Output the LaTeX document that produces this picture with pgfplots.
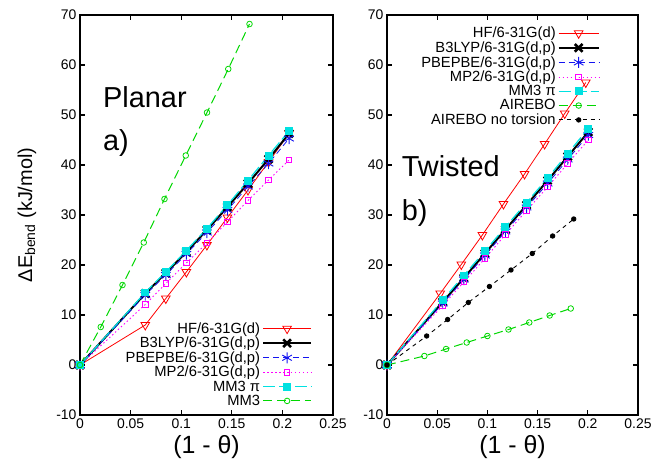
\documentclass[border=0pt]{standalone}
\usepackage{fontspec}
\setmainfont{Liberation Sans}
\usepackage{pgfplots}
\pgfplotsset{compat=1.18}
\definecolor{myred}{RGB}{255,0,0}
\definecolor{myblue}{RGB}{20,20,240}
\definecolor{mymag}{RGB}{255,0,255}
\definecolor{mycyan}{RGB}{0,225,225}
\definecolor{mygreen}{RGB}{0,215,0}
\pgfplotsset{
 panel/.style={
  scale only axis, width=253bp, height=400bp,
  xmin=0, xmax=0.25, ymin=-10, ymax=70,
  xtick={0,0.05,0.1,0.15,0.2,0.25},
  ytick={-10,0,10,20,30,40,50,60,70},
  tick align=inside, major tick length=5bp, minor tick num=0,
  axis line style={line width=1.6pt},
  every tick/.style={line width=1.3pt, black},
  /pgf/number format/assume math mode=true,
  tick label style={font=\fontsize{14}{16}\selectfont},
  xticklabel style={/pgf/number format/fixed, /pgf/number format/precision=2},
  xlabel={(1 - θ)},
  xlabel style={font=\fontsize{25}{28}\selectfont},
  legend cell align=right, legend plot pos=right,
  legend style={draw=none, fill=none, font=\fontsize{14.8}{15}\selectfont, row sep=-1.6pt},
 },
 hf/.style={myred, line width=0.8pt, mark=triangle, mark size=5bp, mark options={rotate=180, solid, line width=0.8pt}},
 b3/.style={black, line width=2pt, mark=x, mark size=5.5bp, mark options={solid, line width=2.6pt}},
 pbe/.style={myblue, line width=0.8pt, dash pattern=on 6pt off 4pt, mark=asterisk, mark size=5.5bp, mark options={solid, line width=0.9pt}},
 mp2/.style={mymag, line width=0.9pt, dash pattern=on 1.5pt off 2.5pt, mark=square, mark size=2.8bp, mark options={solid}},
 mm3pi/.style={mycyan, line width=1.2pt, dash pattern=on 12pt off 4pt, mark=square*, mark size=3.4bp, mark options={solid}},
 mm3/.style={mygreen, line width=1pt, dash pattern=on 9pt off 5pt, mark=o, mark size=2.8bp, mark options={solid, line width=0.8pt}},
 airnt/.style={black, line width=0.9pt, dash pattern=on 4pt off 4pt, mark=*, mark size=2.2bp, mark options={solid}},
}
\begin{document}
\begin{tikzpicture}
\useasboundingbox (-80bp,-52bp) rectangle (589bp,415bp);
\begin{axis}[panel,
  ylabel={ΔE\textsubscript{bend} (kJ/mol)},
  ylabel style={font=\fontsize{20}{22}\selectfont, at={(axis description cs:-0.21,0.5)}, anchor=center},
  legend style={at={(axis description cs:0.93,0.01)}, anchor=south east},
  legend image code/.code={\draw[mark repeat=2,mark phase=2] plot coordinates {(0bp,0bp) (24bp,0bp) (48bp,0bp)};},
]
\addplot[hf] coordinates {(0,0) (0.0645,8.0) (0.0848,13.3) (0.1051,18.6) (0.1254,24.0) (0.1457,29.5) (0.1660,35.0) (0.1863,40.6) (0.2066,46.3)};
\addlegendentry{HF/6-31G(d)}
\addplot[b3] coordinates {(0,0) (0.0645,14.3) (0.0848,18.4) (0.1051,22.6) (0.1254,27.0) (0.1457,31.6) (0.1660,36.3) (0.1863,41.2) (0.2066,46.3)};
\addlegendentry{B3LYP/6-31G(d,p)}
\addplot[pbe] coordinates {(0,0) (0.0645,14.0) (0.0848,18.0) (0.1051,22.2) (0.1254,26.5) (0.1457,31.0) (0.1660,35.7) (0.1863,40.3) (0.2066,45.3)};
\addlegendentry{PBEPBE/6-31G(d,p)}
\addplot[mp2] coordinates {(0,0) (0.0645,12.1) (0.0848,16.3) (0.1051,20.4) (0.1254,24.4) (0.1457,28.6) (0.1660,32.9) (0.1863,37.0) (0.2066,41.0)};
\addlegendentry{MP2/6-31G(d,p)}
\addplot[mm3pi] coordinates {(0,0) (0.0645,14.5) (0.0848,18.6) (0.1051,22.9) (0.1254,27.3) (0.1457,32.0) (0.1660,36.9) (0.1863,41.9) (0.2066,46.8)};
\addlegendentry{MM3 π}
\addplot[mm3] coordinates {(0,0) (0.0205,7.6) (0.042,16.0) (0.063,24.5) (0.0835,33.2) (0.1045,41.9) (0.1255,50.5) (0.1465,59.2) (0.1675,68.2)};
\addlegendentry{MM3}
\node[anchor=base west, font=\fontsize{29}{32}\selectfont, inner sep=0pt] at (axis cs:0.0227,51.6) {Planar};
\node[anchor=base west, font=\fontsize{29}{32}\selectfont, inner sep=0pt] at (axis cs:0.0227,43) {a)};
\end{axis}
\begin{axis}[panel, at={(307bp,0bp)}, width=251bp,
  legend style={at={(axis description cs:0.86,0.98)}, anchor=north east},
  legend image code/.code={\draw[mark repeat=2,mark phase=2] plot coordinates {(0bp,0bp) (20bp,0bp) (40bp,0bp)};},
]
\addplot[hf] coordinates {(0,0) (0.053,14.3) (0.074,20.1) (0.095,26.0) (0.116,32.2) (0.137,38.2) (0.157,44.2) (0.177,50.3) (0.198,56.5)};
\addlegendentry{HF/6-31G(d)}
\addplot[b3] coordinates {(0,0) (0.0555,12.6) (0.0765,17.4) (0.0975,22.3) (0.118,27.1) (0.139,32.0) (0.160,36.9) (0.180,41.7) (0.2005,46.6)};
\addlegendentry{B3LYP/6-31G(d,p)}
\addplot[pbe] coordinates {(0,0) (0.0555,12.3) (0.0765,17.1) (0.0975,21.9) (0.118,26.7) (0.139,31.5) (0.160,36.3) (0.180,41.1) (0.2005,46.0)};
\addlegendentry{PBEPBE/6-31G(d,p)}
\addplot[mp2] coordinates {(0,0) (0.0555,11.9) (0.0765,16.6) (0.0975,21.3) (0.118,26.1) (0.139,30.9) (0.160,35.6) (0.180,40.3) (0.2005,45.0)};
\addlegendentry{MP2/6-31G(d,p)}
\addplot[mm3pi] coordinates {(0,0) (0.0555,13.0) (0.0765,17.9) (0.0975,22.8) (0.118,27.6) (0.139,32.5) (0.160,37.4) (0.180,42.3) (0.2005,47.3)};
\addlegendentry{MM3 π}
\addplot[mm3] coordinates {(0,0) (0.0372,1.8) (0.0588,3.2) (0.0794,4.5) (0.1,5.8) (0.121,7.1) (0.1417,8.5) (0.162,9.9) (0.183,11.3)};
\addlegendentry{AIREBO}
\addplot[airnt] coordinates {(0,0) (0.0395,5.8) (0.0604,9.1) (0.081,12.5) (0.102,15.7) (0.1235,19.0) (0.1447,22.3) (0.165,25.8) (0.186,29.2)};
\addlegendentry{AIREBO no torsion}
\node[anchor=base west, font=\fontsize{29}{32}\selectfont, inner sep=0pt] at (axis cs:0.0146,37.7) {Twisted};
\node[anchor=base west, font=\fontsize{29}{32}\selectfont, inner sep=0pt] at (axis cs:0.0146,29) {b)};
\end{axis}
\end{tikzpicture}
\end{document}
